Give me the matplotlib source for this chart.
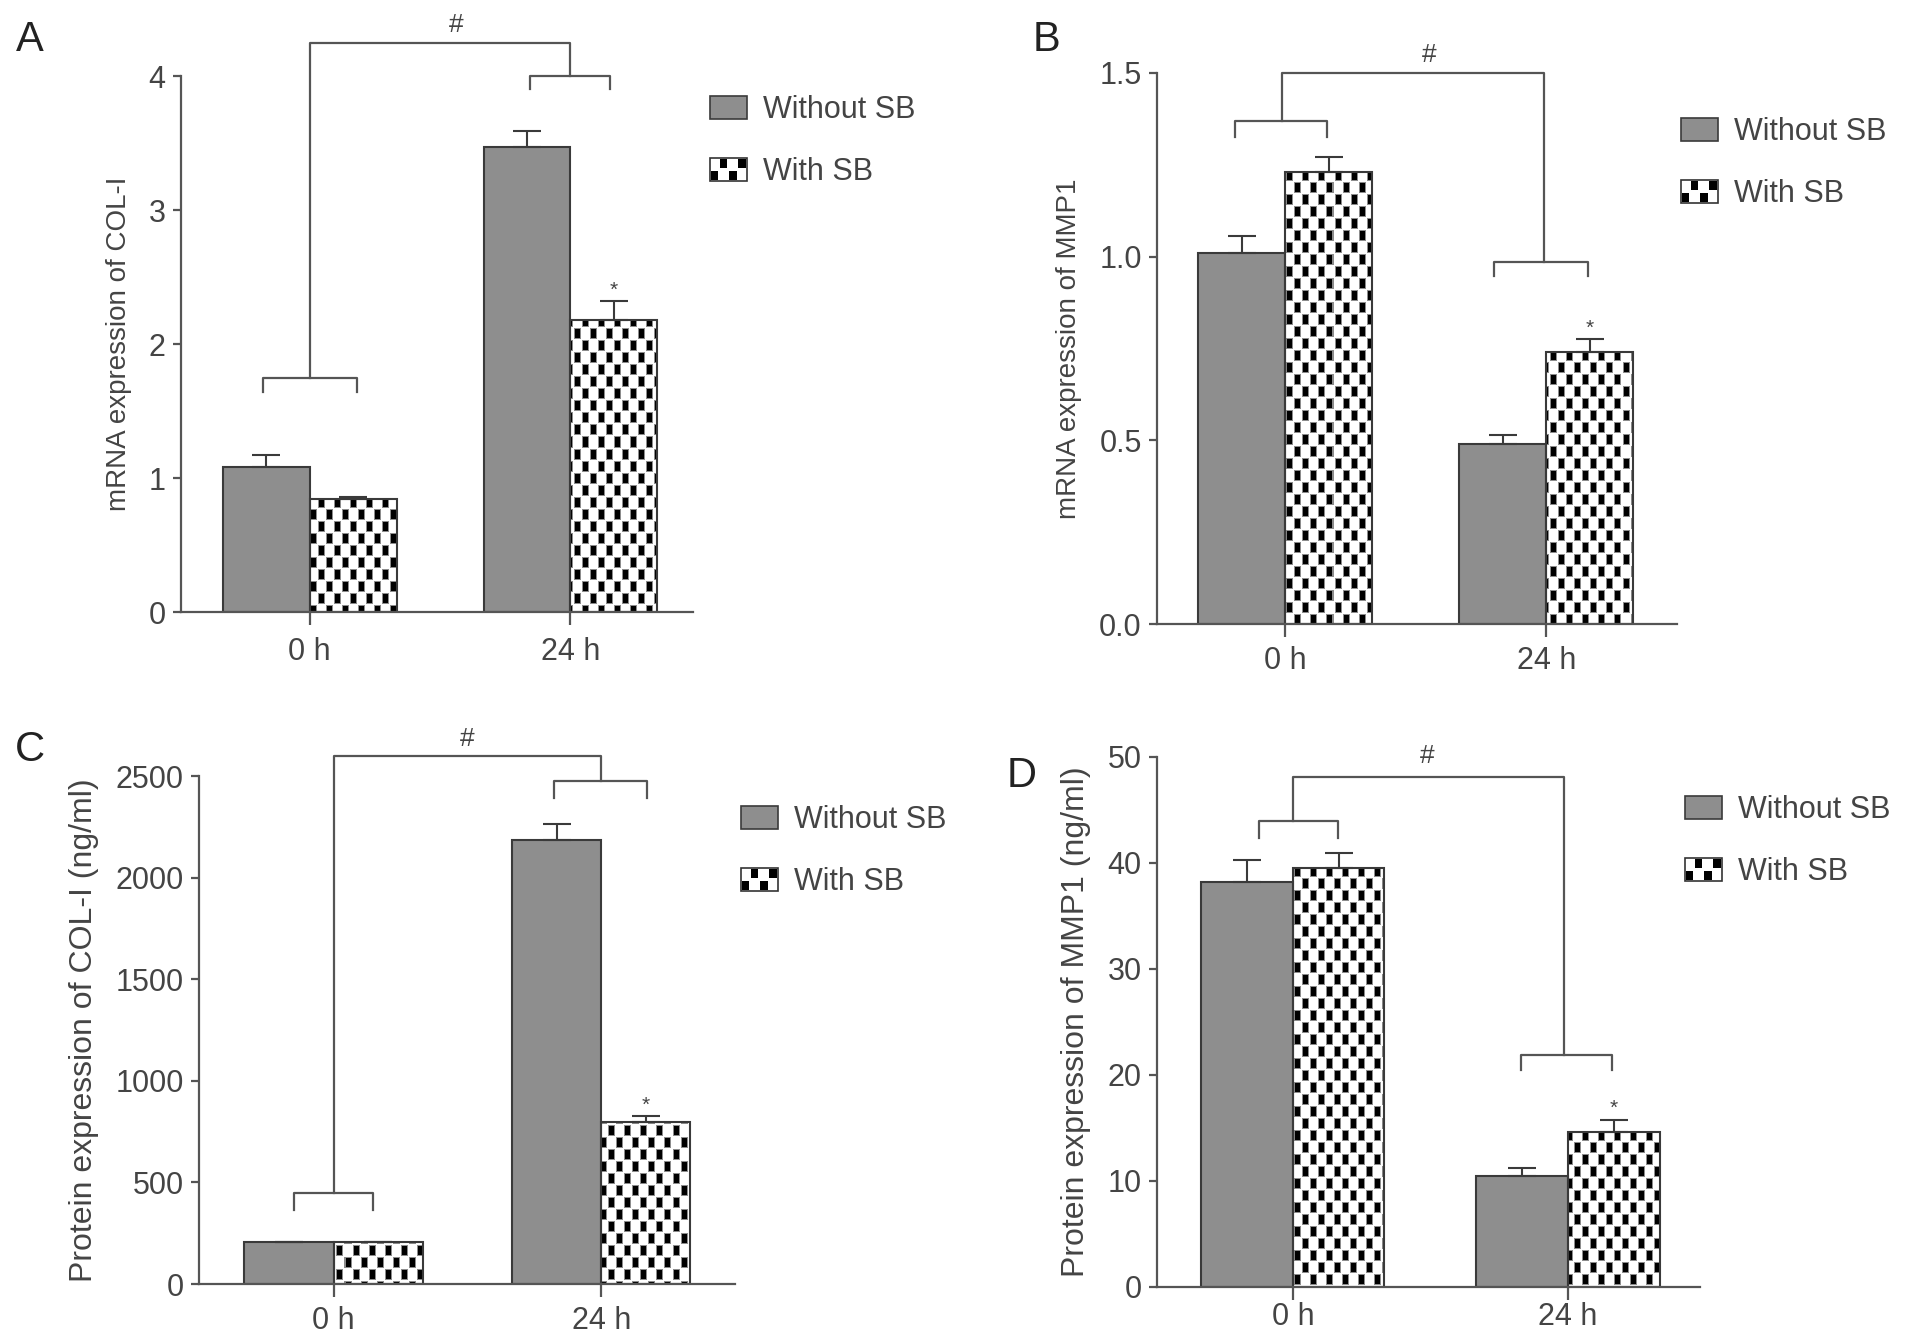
import numpy as np
import matplotlib
matplotlib.use('Agg')
import matplotlib.pyplot as plt
from matplotlib.patches import Rectangle, Patch
from matplotlib.legend_handler import HandlerPatch

# ---- data ----
groups = ['0 h', '24 h']
series_names = ['Without SB', 'With SB']

# A: mRNA COL-I
a_without = [1.08, 3.47]
a_without_err = [0.09, 0.12]
a_with = [0.84, 2.18]
a_with_err = [0.02, 0.14]

# B: mRNA MMP1
b_without = [1.01, 0.49]
b_without_err = [0.045, 0.025]
b_with = [1.23, 0.74]
b_with_err = [0.042, 0.035]

# C: protein COL-I (ng/ml)
c_without = [205, 2185]
c_without_err = [4, 80]
c_with = [205, 795]
c_with_err = [4, 32]

# D: protein MMP1 (ng/ml)
d_without = [38.2, 10.5]
d_without_err = [2.1, 0.7]
d_with = [39.5, 14.6]
d_with_err = [1.4, 1.2]

plt.rcParams['font.family'] = ['Liberation Sans', 'DejaVu Sans']
text_c = '#444444'
line_c = '#555555'
bar_gray = '#8e8e8e'

W, H = 1913, 1336
fig = plt.figure(figsize=(W / 100, H / 100), dpi=100)


def px_rect(left, right, top, bottom):
    return [left / W, 1 - bottom / H, (right - left) / W, (bottom - top) / H]


def checker(h, w):
    # black blobs on white, every other cell, rows offset by one cell
    yy, xx = np.mgrid[0:h, 0:w]
    cw, ch = 8, 12
    on_cell = (yy // ch + xx // cw) % 2 == 0
    cx, cy = xx % cw, yy % ch
    core = on_cell & (cx >= 2) & (cx < 7) & (cy >= 2) & (cy < 11)
    halo = on_cell & (cx >= 1) & (cy >= 1) & ~core
    img = np.ones((h, w))
    img[halo] = 0.55
    img[core] = 0.0
    return img


class CheckerHandler(HandlerPatch):
    def create_artists(self, legend, orig_handle, xdescent, ydescent,
                       width, height, fontsize, trans):
        arts = [Rectangle((-xdescent, -ydescent), width, height, facecolor='white',
                          edgecolor='#333333', lw=1.2, transform=trans)]
        nx, ny = 4, 2
        cw, ch = width / nx, height / ny
        for i in range(nx):
            for j in range(ny):
                if (i + j) % 2 == 0:
                    arts.append(Rectangle((-xdescent + i * cw + 0.1 * cw, -ydescent + j * ch + 0.1 * ch),
                                          0.8 * cw, 0.8 * ch, facecolor='black',
                                          edgecolor='none', transform=trans))
        return arts


panels = [
    dict(letter='A', rect=px_rect(181, 693, 76, 612), xlim=(-0.494, 1.47), ylim=(0, 4),
         yticks=[0, 1, 2, 3, 4], ticklabels=['0', '1', '2', '3', '4'],
         ylabel='mRNA expression of COL-I', ylabel_size=20, xpad=9,
         without=a_without, without_err=a_without_err, with_=a_with, with_err=a_with_err,
         left_br=(-0.18, 0.18, 1.75, 0.11), right_br=(0.843, 1.153, 4.0, 0.1),
         conn=(0.0, 1.0, 4.25), hash_pos=(0.56, 4.38),
         letter_pos=(30, 40), legend_pos=(710, 141)),
    dict(letter='B', rect=px_rect(1157, 1677, 73, 624), xlim=(-0.49, 1.5), ylim=(0, 1.5),
         yticks=[0, 0.5, 1.0, 1.5], ticklabels=['0.0', '0.5', '1.0', '1.5'],
         ylabel='mRNA expression of MMP1', ylabel_size=20, xpad=7,
         without=b_without, without_err=b_without_err, with_=b_with, with_err=b_with_err,
         left_br=(-0.19, 0.16, 1.368, 0.043), right_br=(0.80, 1.16, 0.986, 0.038),
         conn=(-0.01, 0.99, 1.5), hash_pos=(0.55, 1.548),
         letter_pos=(1047, 40), legend_pos=(1681, 163)),
    dict(letter='C', rect=px_rect(199, 735, 776, 1284), xlim=(-0.503, 1.5), ylim=(0, 2500),
         yticks=[0, 500, 1000, 1500, 2000, 2500],
         ticklabels=['0', '500', '1000', '1500', '2000', '2500'],
         ylabel='Protein expression of COL-I (ng/ml)', ylabel_size=23, xpad=7,
         without=c_without, without_err=c_without_err, with_=c_with, with_err=c_with_err,
         left_br=(-0.149, 0.149, 449, 83), right_br=(0.825, 1.17, 2475, 82),
         conn=(0.0, 1.0, 2599), hash_pos=(0.5, 2681),
         letter_pos=(30, 750), legend_pos=(741, 851)),
    dict(letter='D', rect=px_rect(1157, 1700, 757, 1287), xlim=(-0.494, 1.48), ylim=(0, 50),
         yticks=[0, 10, 20, 30, 40, 50], ticklabels=['0', '10', '20', '30', '40', '50'],
         ylabel='Protein expression of MMP1 (ng/ml)', ylabel_size=23, xpad=2,
         without=d_without, without_err=d_without_err, with_=d_with, with_err=d_with_err,
         left_br=(-0.124, 0.164, 44, 1.6), right_br=(0.83, 1.16, 21.9, 1.4),
         conn=(0.0, 0.984, 48.15), hash_pos=(0.49, 50.1),
         letter_pos=(1022, 776), legend_pos=(1685, 841)),
]

bw = 0.333
x = np.arange(len(groups))

for p in panels:
    ax = fig.add_axes(p['rect'])
    ax.set_xlim(p['xlim'])
    ax.set_ylim(p['ylim'])

    # bars
    ax.bar(x - bw / 2, p['without'], bw, color=bar_gray, edgecolor='#3a3a3a', lw=1.5, zorder=2)
    hb = ax.bar(x + bw / 2, p['with_'], bw, facecolor='none', edgecolor='#3a3a3a', lw=1.5, zorder=2)

    # checker fill for the "With SB" bars
    l, b, w, h = p['rect']
    img = checker(int(h * H), int(w * W))
    for bar in hb:
        im = ax.imshow(img, cmap='gray', vmin=0, vmax=1, aspect='auto',
                       interpolation='nearest', zorder=1,
                       extent=(p['xlim'][0], p['xlim'][1], p['ylim'][0], p['ylim'][1]))
        im.set_clip_path(bar)
    ax.set_xlim(p['xlim'])
    ax.set_ylim(p['ylim'])

    # error bars (upper only)
    ax.errorbar(x - bw / 2, p['without'], yerr=[np.zeros(2), p['without_err']], fmt='none',
                ecolor='#3a3a3a', elinewidth=1.5, capsize=10, capthick=1.5, zorder=3)
    ax.errorbar(x + bw / 2, p['with_'], yerr=[np.zeros(2), p['with_err']], fmt='none',
                ecolor='#3a3a3a', elinewidth=1.5, capsize=10, capthick=1.5, zorder=3)

    # significance star on 24 h With SB
    ax.annotate('*', (x[1] + bw / 2, p['with_'][1] + p['with_err'][1]), xytext=(0, 1),
                textcoords='offset points', ha='center', va='bottom', fontsize=15,
                color=text_c, annotation_clip=False)

    # brackets
    for x0, x1, yb, leg in (p['left_br'], p['right_br']):
        ax.plot([x0, x0, x1, x1], [yb - leg, yb, yb, yb - leg], color=line_c, lw=1.6,
                clip_on=False, zorder=4)
    cl, cr, ytop = p['conn']
    ax.plot([cl, cl, cr, cr], [p['left_br'][2], ytop, ytop, p['right_br'][2]],
            color=line_c, lw=1.6, clip_on=False, zorder=4)
    ax.text(p['hash_pos'][0], p['hash_pos'][1], '#', ha='center', va='center',
            fontsize=19, color=text_c)

    # axes styling
    for s in ['top', 'right']:
        ax.spines[s].set_visible(False)
    for s in ['left', 'bottom']:
        ax.spines[s].set_color(line_c)
        ax.spines[s].set_linewidth(1.6)
    ax.set_xticks(x)
    ax.set_xticklabels(groups)
    ax.set_yticks(p['yticks'])
    ax.set_yticklabels(p['ticklabels'])
    ax.tick_params(axis='x', length=9, width=1.6, color=line_c, pad=p['xpad'], labelsize=22,
                   labelcolor=text_c)
    ax.tick_params(axis='y', length=6, width=1.6, color=line_c, pad=5, labelsize=22,
                   labelcolor=text_c)
    ax.set_ylabel(p['ylabel'], fontsize=p['ylabel_size'], color=text_c, labelpad=12)

    # legend
    h1 = Patch(facecolor=bar_gray, edgecolor='#3a3a3a', lw=1.2)
    h2 = Patch(facecolor='white')
    ax.legend([h1, h2], series_names, handler_map={h2: CheckerHandler()},
              loc='center left', bbox_to_anchor=(p['legend_pos'][0] / W, 1 - p['legend_pos'][1] / H),
              bbox_transform=fig.transFigure, frameon=False, fontsize=22, borderpad=0,
              borderaxespad=0, handlelength=1.2, handleheight=0.8, handletextpad=0.55,
              labelspacing=1.05, labelcolor=text_c)

    fig.text(p['letter_pos'][0] / W, 1 - p['letter_pos'][1] / H, p['letter'],
             ha='center', va='center', fontsize=30, color='#222222')

fig.savefig('out.png', dpi=100)
